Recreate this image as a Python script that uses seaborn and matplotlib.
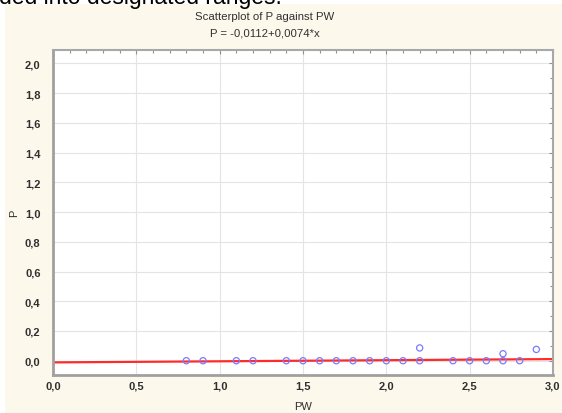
import numpy as np
import pandas as pd
import matplotlib
matplotlib.use("Agg")
import matplotlib.pyplot as plt
from matplotlib.ticker import MultipleLocator, FuncFormatter
from matplotlib.patches import Rectangle
import seaborn as sns

# data
pw = [0.8, 0.9, 1.1, 1.2, 1.4, 1.5, 1.6, 1.7, 1.8, 1.9, 2.0, 2.1, 2.2, 2.2,
      2.4, 2.5, 2.6, 2.7, 2.7, 2.8, 2.9]
p = [0.0, 0.0, 0.0, 0.0, 0.0, 0.0, 0.0, 0.0, 0.0, 0.0, 0.0, 0.0, 0.0, 0.086,
     0.0, 0.0, 0.0, 0.0, 0.047, 0.0, 0.076]
intercept = -0.0112
slope = 0.0074
line_x = [0.0, 3.0]

title1 = "Scatterplot of P against PW"
title2 = "P = -0,0112+0,0074*x"

sns.set_theme(style="white")
plt.rcParams['font.family'] = ['Liberation Sans', 'DejaVu Sans']

fig = plt.figure(figsize=(5.62, 4.14), dpi=100)
fig.patch.set_facecolor("white")
fig.patches.append(Rectangle((5 / 562, 0), 1, 409 / 414, transform=fig.transFigure,
                             facecolor="#fdf8ec", edgecolor="none", zorder=-5))
fig.text(-0.002, 1 - 4 / 414, "ded into designated ranges.", fontsize=16.5,
         color="black", ha="left", va="baseline")

ax = fig.add_axes([53 / 562, 1 - 376 / 414, 500 / 562, 325 / 414])
ax.set_facecolor("white")

df = pd.DataFrame({"PW": pw, "P": p})
line_df = pd.DataFrame({"x": line_x, "y": [intercept + slope * v for v in line_x]})

sns.lineplot(data=line_df, x="x", y="y", ax=ax, color="#ff2a2a", linewidth=1.6, zorder=2)
sns.scatterplot(data=df, x="PW", y="P", ax=ax, marker="o", s=20,
                facecolor="none", edgecolor="#7a7aff", linewidth=0.9, zorder=3)

ax.set_xlim(0, 3.0)
ax.set_ylim(-0.096, 2.09)
ax.xaxis.set_major_locator(MultipleLocator(0.5))
ax.xaxis.set_minor_locator(MultipleLocator(0.1))
ax.yaxis.set_major_locator(MultipleLocator(0.2))
ax.yaxis.set_minor_locator(MultipleLocator(0.1))
fmt = FuncFormatter(lambda v, pos: f"{v:.1f}".replace(".", ",").replace("-0,0", "0,0"))
ax.xaxis.set_major_formatter(fmt)
ax.yaxis.set_major_formatter(fmt)

ax.grid(True, which="major", color="#e4e4e4", linewidth=0.8)
ax.set_axisbelow(True)
ax.tick_params(which="both", direction="in", top=True, right=True,
               color="#909090", labelsize=8, labelcolor="#303030")
ax.tick_params(which="major", length=3, width=0.8)
ax.tick_params(which="minor", length=2, width=0.8)
ax.tick_params(axis="x", which="major", pad=4)
ax.tick_params(axis="y", which="major", pad=9)
for lab in ax.get_xticklabels() + ax.get_yticklabels():
    lab.set_fontweight("bold")

for side in ["left", "bottom"]:
    ax.spines[side].set_color("#a0a0a0")
    ax.spines[side].set_linewidth(2)
for side in ["right", "top"]:
    ax.spines[side].set_color("#a8a8a8")
    ax.spines[side].set_linewidth(1.5)

ax.set_xlabel("")
ax.set_ylabel("")
fig.text(303 / 562, 1 - 407 / 414, "PW", fontsize=8, color="#303030",
         ha="center", va="center")
fig.text(14 / 562, 1 - 213 / 414, "P", fontsize=8, color="#303030",
         ha="center", va="center", rotation=90)
fig.text(265 / 562, 1 - 17 / 414, title1, fontsize=8.2, color="#303030",
         ha="center", va="center")
fig.text(265 / 562, 1 - 34 / 414, title2, fontsize=8.2, color="#303030",
         ha="center", va="center")

fig.savefig("out.png", dpi=100)
